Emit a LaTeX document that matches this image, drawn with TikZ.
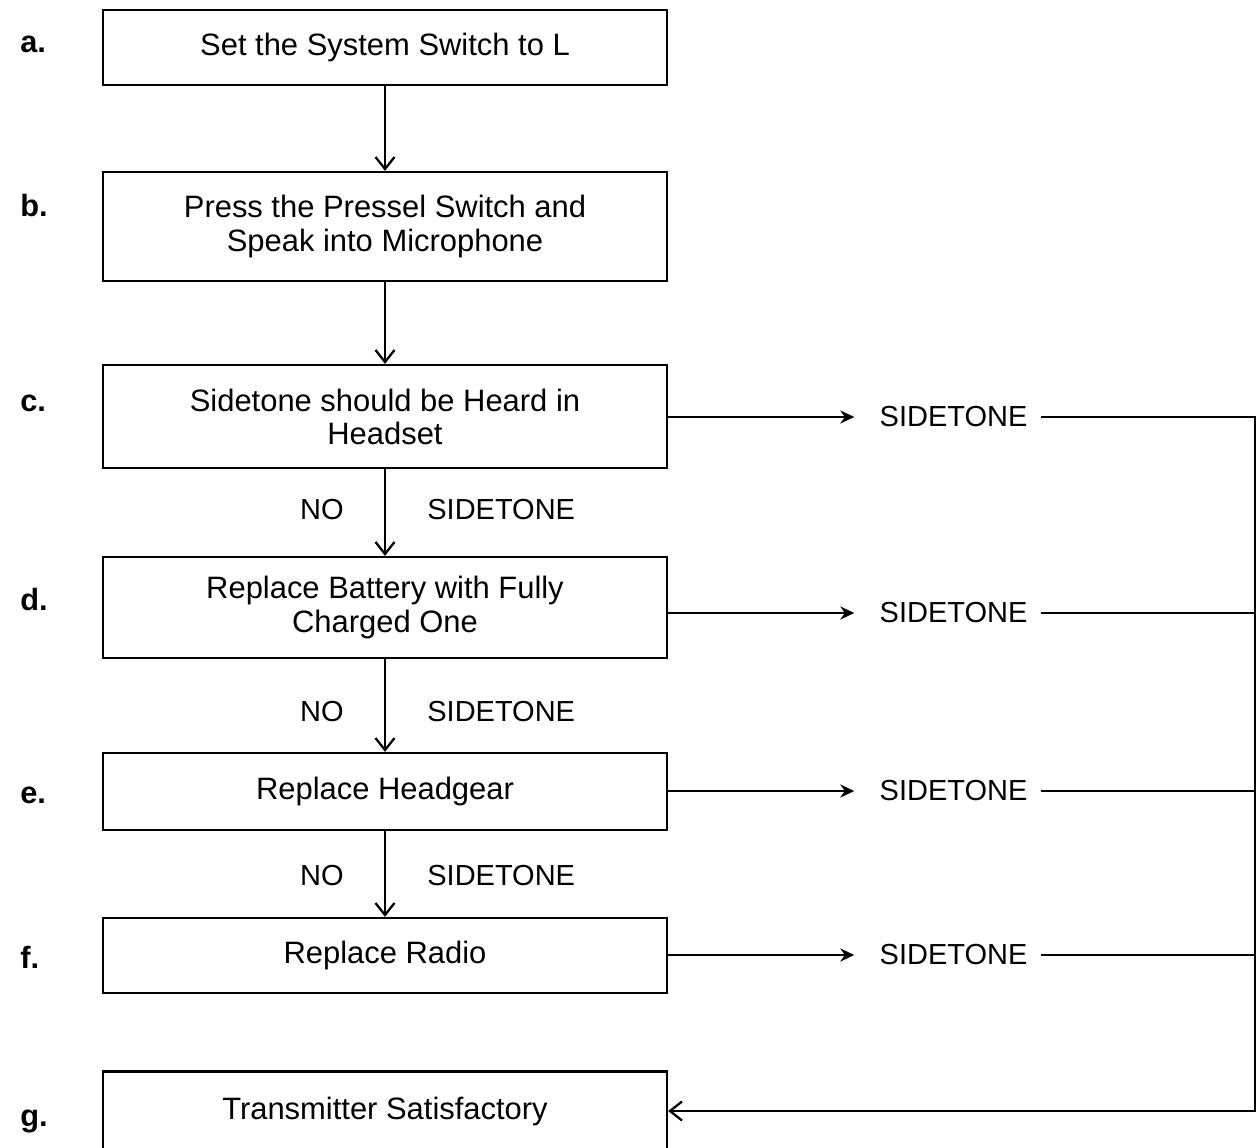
\documentclass[tikz,border=0pt]{standalone}
\usepackage{fontspec}
\setmainfont{Liberation Sans}
\usetikzlibrary{arrows.meta,positioning}
\begin{document}
\begin{tikzpicture}[
  stepbox/.style={draw=black, line width=1.3pt, rectangle,
             minimum width=11.28cm, align=center,
             font=\fontsize{17.6}{18.8}\selectfont, inner sep=0pt,
             anchor=center},
  tag/.style={font=\fontsize{17.5}{20}\selectfont\bfseries,
             anchor=base west, inner sep=0pt},
  lbl/.style={font=\fontsize{16.5}{19.5}\selectfont, inner sep=0pt},
  flow/.style={-{Straight Barb[length=2.4mm,width=3.8mm]}, line width=1.3pt},
  side/.style={-{Stealth[length=2.8mm,width=2.6mm]}, line width=1.3pt,
               shorten >=0.5cm},
  ret/.style={line width=1.3pt, shorten <=0.26cm},
]
\def\cx{7.70}  % centre line of the boxes
% Fix bounding box to page area
\useasboundingbox (0,0) rectangle (25.18,-22.96);
% Step boxes
\node[stepbox, minimum height=1.50cm] (a) at (\cx,-0.95) {Set the System Switch to L};
\node[stepbox, minimum height=2.18cm] (b) at (\cx,-4.53) {Press the Pressel Switch and\\Speak into Microphone};
\node[stepbox, minimum height=2.06cm] (c) at (\cx,-8.33) {Sidetone should be Heard in\\Headset};
\node[stepbox, minimum height=2.02cm] (d) at (\cx,-12.15) {Replace Battery with Fully\\Charged One};
\node[stepbox, minimum height=1.54cm] (e) at (\cx,-15.83) {Replace Headgear};
\node[stepbox, minimum height=1.50cm] (f) at (\cx,-19.11) {Replace Radio};
\node[stepbox, minimum height=1.58cm] (g) at (\cx,-22.22) {Transmitter Satisfactory};
% Step letters
\node[tag] (ta) at (0.40,-1.06) {a.};
\node[tag] (tb) at (0.40,-4.34) {b.};
\node[tag] (tc) at (0.40,-8.24) {c.};
\node[tag] (td) at (0.40,-12.20) {d.};
\node[tag] (te) at (0.40,-16.06) {e.};
\node[tag] (tf) at (0.40,-19.36) {f.};
\node[tag] (tg) at (0.40,-22.52) {g.};
% Down arrows
\foreach \s/\t in {a/b,b/c,c/d,d/e,e/f}
  \draw[flow] (\s) -- (\t);
% NO / SIDETONE between boxes
\coordinate (cd) at (\cx,-10.20);
\coordinate (de) at (\cx,-14.24);
\coordinate (ef) at (\cx,-17.52);
\foreach \m in {cd,de,ef} {
  \node[lbl, anchor=east] (no\m) at ([xshift=-0.82cm]\m) {NO};
  \node[lbl, anchor=west] (st\m) at ([xshift=0.84cm]\m) {SIDETONE};
}
% SIDETONE exits
\node[lbl] (s1) at (19.07,-8.34) {SIDETONE};
\node[lbl] (s2) at (19.07,-12.26) {SIDETONE};
\node[lbl] (s3) at (19.07,-15.82) {SIDETONE};
\node[lbl] (s4) at (19.07,-19.10) {SIDETONE};
\draw[side] (c.east |- s1) -- (s1);
\draw[side] (d.east |- s2) -- (s2);
\draw[side] (e.east |- s3) -- (s3);
\draw[side] (f.east |- s4) -- (s4);
% Return rail to g
\coordinate (rail) at (25.10,0);
\draw[ret, -{Straight Barb[length=2.4mm,width=3.8mm]}]
  (s1.east) -- (s1.east -| rail) |- (g.east);
\foreach \s in {s2,s3,s4}
  \draw[ret] (\s.east) -- (\s.east -| rail);
\end{tikzpicture}
\end{document}
